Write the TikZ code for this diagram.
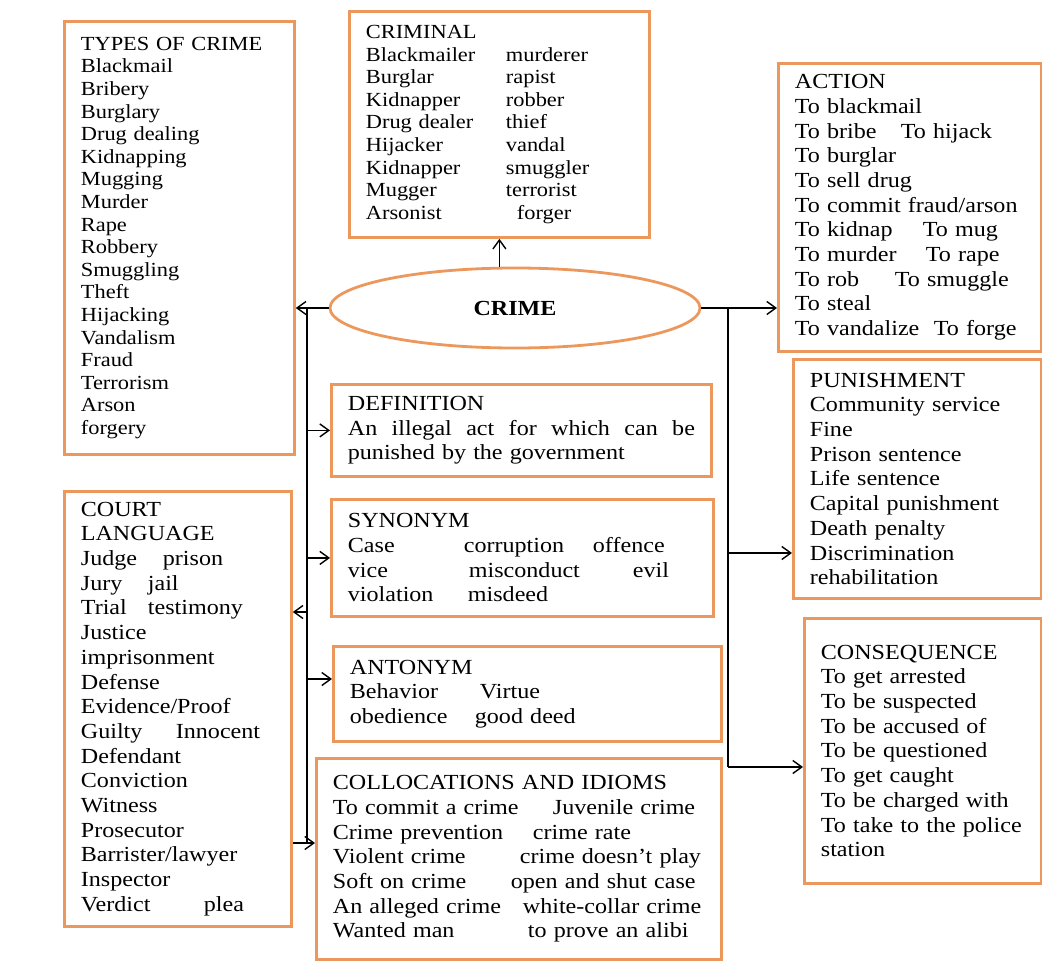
\documentclass[tikz,border=0pt]{standalone}
\usepackage{fontspec}
\setmainfont{Liberation Serif}[FakeStretch=1.12]
\usetikzlibrary{shapes.geometric,arrows.meta}

\definecolor{boxorange}{RGB}{236,152,92}

\newcommand\lcol        [2]{\makebox[#1][l]{#2}}
\newcommand\txtTypes    [0]{TYPES OF CRIME\\Blackmail\\Bribery\\Burglary\\Drug dealing\\Kidnapping\\Mugging\\Murder\\Rape\\Robbery\\Smuggling\\Theft\\Hijacking\\Vandalism\\Fraud\\Terrorism\\Arson\\forgery}
\newcommand\txtCriminal [0]{CRIMINAL\\\lcol{140pt}{Blackmailer}murderer\\\lcol{140pt}{Burglar}rapist\\\lcol{140pt}{Kidnapper}robber\\\lcol{140pt}{Drug dealer}thief\\\lcol{140pt}{Hijacker}vandal\\\lcol{140pt}{Kidnapper}smuggler\\\lcol{140pt}{Mugger}terrorist\\\lcol{151pt}{Arsonist}forger}
\newcommand\txtAction   [0]{ACTION\\To blackmail\\\lcol{106pt}{To bribe}To hijack\\To burglar\\To sell drug\\To commit fraud/arson\\\lcol{128pt}{To kidnap}To mug\\\lcol{131pt}{To murder}To rape\\\lcol{100pt}{To rob}To smuggle\\To steal\\\lcol{139pt}{To vandalize}To forge}
\newcommand\txtPunish   [0]{PUNISHMENT\\Community service\\Fine\\Prison sentence\\Life sentence\\Capital punishment\\Death penalty\\Discrimination\\rehabilitation}
\newcommand\txtConseq   [0]{CONSEQUENCE\\To get arrested\\To be suspected\\To be accused of\\To be questioned\\To get caught\\To be charged with\\To take to the police\\station}
\newcommand\txtDefn     [0]{DEFINITION\\\makebox[347pt][l]{An\hfill illegal\hfill act\hfill for\hfill which\hfill can\hfill be}\\punished by the government}
\newcommand\txtSynonym  [0]{SYNONYM\\\lcol{116pt}{Case}\lcol{129pt}{corruption}offence\\\lcol{121pt}{vice}\lcol{164pt}{misconduct}evil\\\lcol{120pt}{violation}misdeed}
\newcommand\txtAntonym  [0]{ANTONYM\\\lcol{130pt}{Behavior}Virtue\\\lcol{125pt}{obedience}good deed}
\newcommand\txtColloc   [0]{COLLOCATIONS AND IDIOMS\\\lcol{220pt}{To commit a crime}Juvenile crime\\\lcol{200pt}{Crime prevention}crime rate\\\lcol{187pt}{Violent crime}crime doesn't play\\\lcol{178pt}{Soft on crime}open and shut case\\\lcol{190pt}{An alleged crime}white-collar crime\\\lcol{195pt}{Wanted man}to prove an alibi}
\newcommand\txtCourt    [0]{COURT\\LANGUAGE\\\lcol{82pt}{Judge}prison\\\lcol{67pt}{Jury}jail\\\lcol{67pt}{Trial}testimony\\Justice\\imprisonment\\Defense\\Evidence/Proof\\\lcol{95pt}{Guilty}Innocent\\Defendant\\Conviction\\Witness\\Prosecutor\\Barrister/lawyer\\Inspector\\\lcol{123pt}{Verdict}plea}

\tikzset{
  topic/.style={draw=boxorange,line width=2.8pt,rectangle,anchor=north west,align=left,inner xsep=16.5pt,inner ysep=2pt},
  small type/.style={font=\fontsize{20pt}{22.6pt}\selectfont},
  big type/.style={font=\fontsize{21.5pt}{24.7pt}\selectfont},
  link/.style={-{Straight Barb[length=9pt,width=13pt]},line width=1.4pt},
  trunk/.style={line width=1.4pt}
}

\begin{document}
\begin{tikzpicture}[x=1pt,y=-1pt]
  \tikzset{hub/.style={draw=boxorange,line width=2.8pt,ellipse,inner sep=0pt,minimum width=370pt,minimum height=80pt}}
  \useasboundingbox (0,0) rectangle (1042,961);

  \node [topic, small type, text width=197pt, minimum height=433pt] (types)    at (63,20)   {\txtTypes};
  \node [topic, small type, text width=267pt, minimum height=226pt] (criminal) at (348,10)  {\txtCriminal};
  \node [topic, big type,   text width=230pt, minimum height=288pt] (action)   at (777,62)  {\txtAction};
  \node [topic, big type,   text width=215pt, minimum height=239pt] (punish)   at (792,358) {\txtPunish};
  \node [topic, big type,   text width=204pt, minimum height=265pt] (conseq)   at (803,617) {\txtConseq};
  \node [topic, big type,   text width=347pt, minimum height=92pt]  (defn)     at (330,383) {\txtDefn};
  \node [topic, big type,   text width=349pt, minimum height=117pt] (synonym)  at (330,498) {\txtSynonym};
  \node [topic, big type,   text width=355pt, minimum height=95pt]  (antonym)  at (332,645) {\txtAntonym};
  \node [topic, big type,   text width=372pt, minimum height=201pt] (colloc)   at (315,757) {\txtColloc};
  \node [topic, big type,   text width=194pt, minimum height=435pt] (court)    at (63,490)  {\txtCourt};
  \node [hub, font=\bfseries\fontsize{21.5pt}{24pt}\selectfont]     (crime)    at (515,308) {CRIME};

  \coordinate (ltop)   at (307,308);
  \coordinate (lcourt) at (307,612);
  \coordinate (lanto)  at (307,679);
  \coordinate (lend)   at (307,843);
  \coordinate (rtop)   at (728,308);
  \coordinate (rpun)   at (728,553);
  \coordinate (rend)   at (728,767);

  \draw [link]  (crime.north -| criminal.south) -- (criminal.south);
  \draw [link]  (crime.west) -- (crime.west -| types.east);
  \draw [trunk] (ltop) -- (lend);
  \draw [link]  (ltop |- defn.west) -- (defn.west);
  \draw [link]  (ltop |- synonym.west) -- (synonym.west);
  \draw [link]  (lcourt) -- (lcourt -| court.east);
  \draw [link]  (lanto) -- (lanto -| antonym.west);
  \draw [link]  (lend -| court.east) -- (lend -| colloc.west);
  \draw [link]  (crime.east) -- (crime.east -| action.west);
  \draw [trunk] (rtop) -- (rend);
  \draw [link]  (rpun) -- (rpun -| punish.west);
  \draw [link]  (rend) -- (rend -| conseq.west);

\end{tikzpicture}
\end{document}
